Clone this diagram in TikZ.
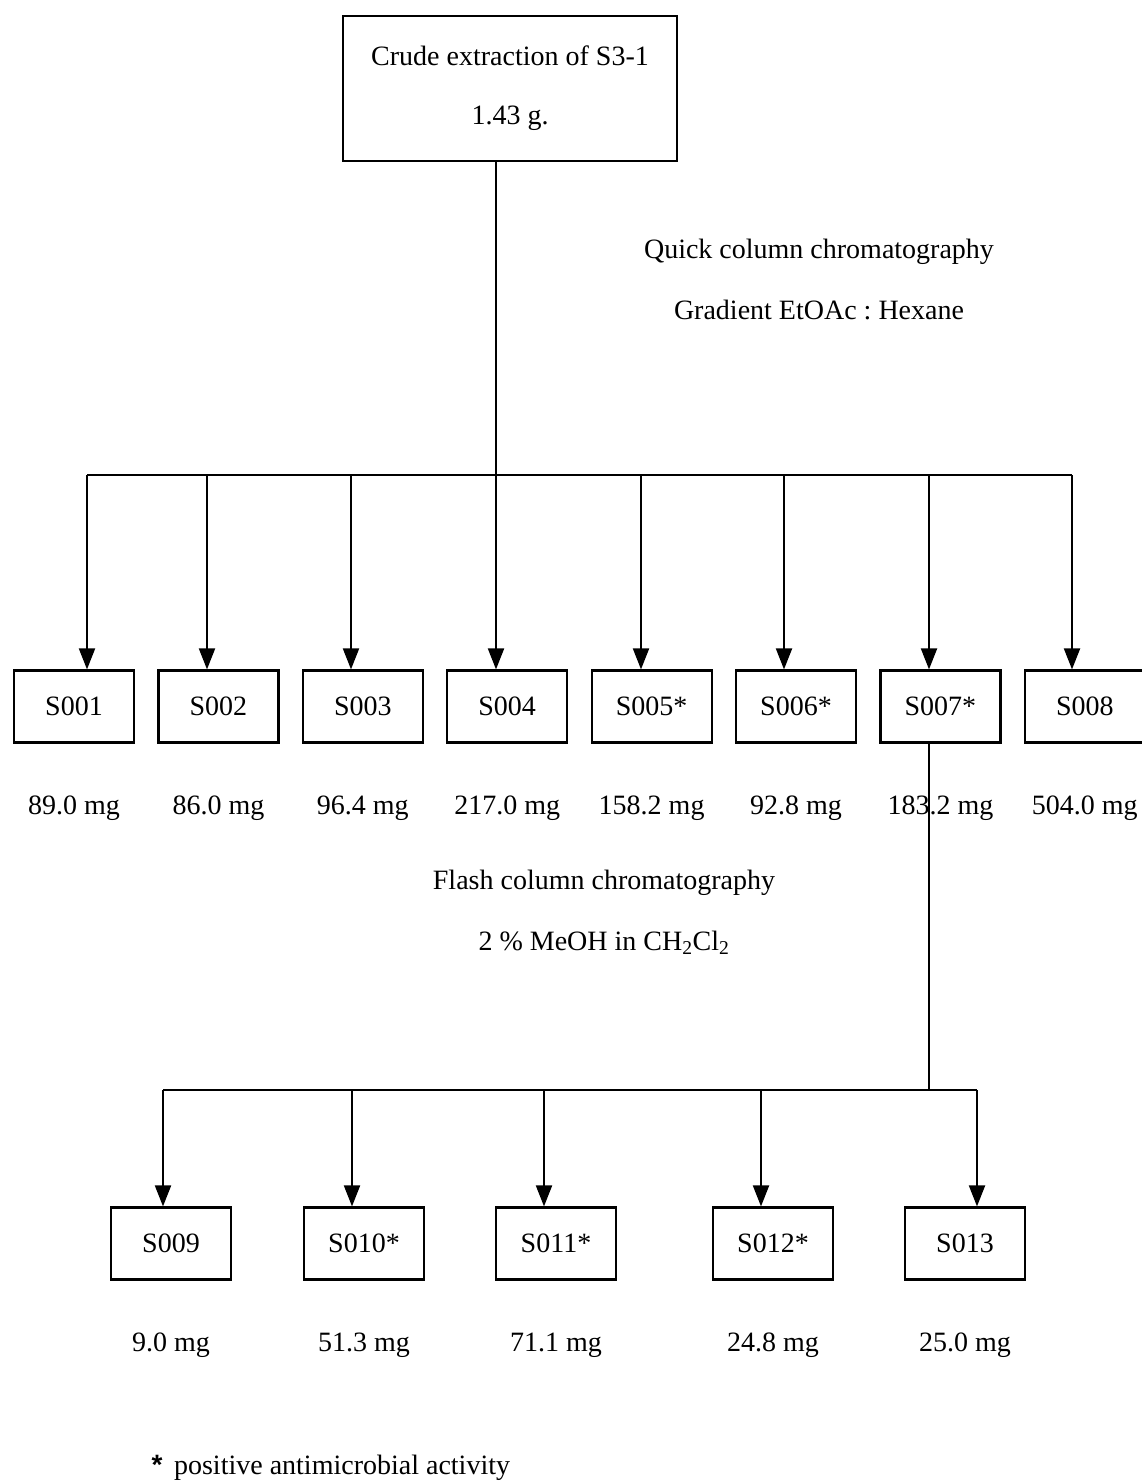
\documentclass[tikz,border=0pt]{standalone}
\usepackage{fontspec}
\setmainfont{Liberation Serif}
\setsansfont{Liberation Sans}
\usetikzlibrary{positioning,arrows.meta}

\begin{document}
\frenchspacing
\begin{tikzpicture}[x=1pt,y=1pt,node distance=22.2pt,
    font=\fontsize{28}{33}\selectfont,
    frac/.style={rectangle,draw=black,line width=2.2pt,minimum width=120pt,minimum height=72pt,inner sep=0pt},
    link/.style={line width=2pt},
    arr/.style={link,-{Triangle[width=16pt,length=21pt]}}]
    \useasboundingbox (0,0) rectangle (1141,-1483);
    % crude extract
    \node[rectangle,draw=black,line width=2.2pt,minimum width=334pt,minimum height=145pt,align=center] (crude) at (510,-88.5) {Crude extraction of S3-1\\[26pt]1.43 g.};
    \node (quick) at (819,-252) {Quick column chromatography};
    \node (grad) at (819,-310) {Gradient EtOAc : Hexane};

    % first fractions
    \node[frac] (s1) at (74,-706.5) {S001};
    \node[frac,right = of s1] (s2) {S002};
    \node[frac,right = of s2] (s3) {S003};
    \node[frac,right = of s3] (s4) {S004};
    \node[frac,right = of s4] (s5) {S005*};
    \node[frac,right = of s5] (s6) {S006*};
    \node[frac,right = of s6] (s7) {S007*};
    \node[frac,right = of s7] (s8) {S008};
    \foreach \n/\w in {1/89.0,2/86.0,3/96.4,4/217.0,5/158.2,6/92.8,7/183.2,8/504.0}
        \node[below = 49pt of s\n] (m\n) {\w~mg};

    \foreach \n/\x in {1/87,2/207,3/351,4/496,5/641,6/784,7/929,8/1072}
        \coordinate (b\n) at (\x,-475);
    \draw[link] (crude.south -| b4) -- (b4);
    \draw[link] (b1) -- (b8);
    \foreach \n in {1,...,8}
        \draw[arr] (b\n) -- (b\n |- s\n.north);

    % flash column of S007
    \node (flash) at (604,-883) {Flash column chromatography};
    \node (meoh) at (604,-943) {2 \% MeOH in CH\textsubscript{2}Cl\textsubscript{2}};

    \node[frac] (s9) at (171,-1243.5) {S009};
    \node[frac] (s10) at (364,-1243.5) {S010*};
    \node[frac] (s11) at (556,-1243.5) {S011*};
    \node[frac] (s12) at (773,-1243.5) {S012*};
    \node[frac] (s13) at (965,-1243.5) {S013};
    \foreach \n/\w in {9/9.0,10/51.3,11/71.1,12/24.8,13/25.0}
        \node[below = 49pt of s\n] (m\n) {\w~mg};

    \coordinate (c0) at (929,-1090);
    \foreach \n/\x in {9/163,10/352,11/544,12/761,13/977}
        \coordinate (c\n) at (\x,-1090);
    \draw[link] (s7.south -| c0) -- (c0);
    \draw[link] (c9) -- (c13);
    \foreach \n in {9,...,13}
        \draw[arr] (c\n) -- (c\n |- s\n.north);

    \node[anchor=west] (note) at (148,-1468) {{\sffamily\bfseries *}\, positive antimicrobial activity};
\end{tikzpicture}
\end{document}
